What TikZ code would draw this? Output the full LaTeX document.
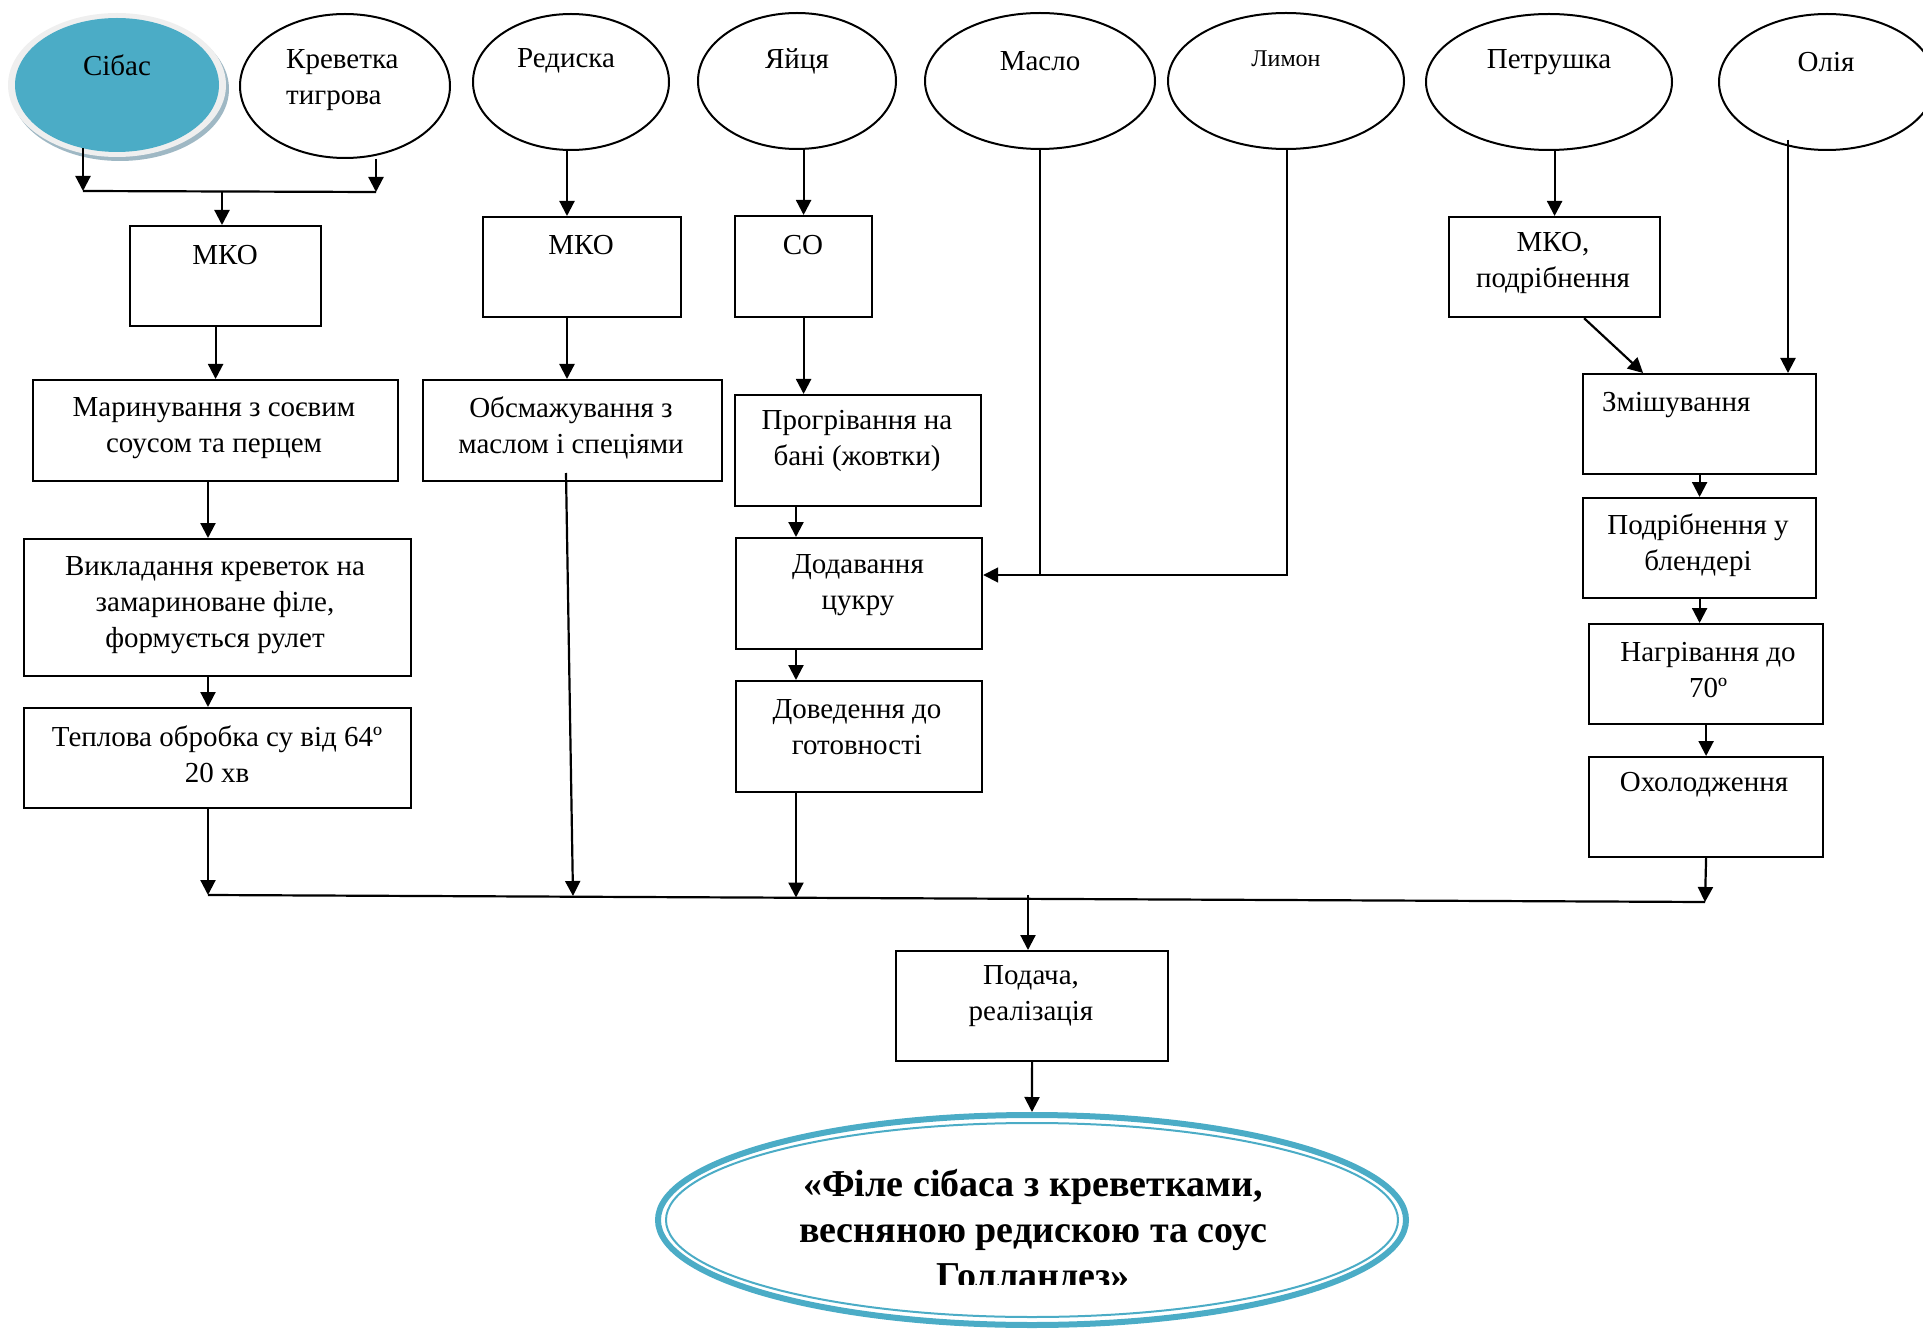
\documentclass[tikz,border=0pt]{standalone}
\usepackage{fontspec}
\setmainfont{Liberation Serif}
\usetikzlibrary{shapes.geometric,arrows.meta,calc}
\definecolor{acc}{HTML}{4BACC6}
\definecolor{ringgray}{HTML}{EFEFEF}
\definecolor{shadowgray}{HTML}{9FB8C4}
\newcommand\fs{\fontsize{29}{36}\selectfont}
\begin{document}
\begin{tikzpicture}[x=1pt,y=-1pt,
  ln/.style={line width=2.2pt},
  thinln/.style={line width=1.8pt},
  arr/.style={line width=2.2pt,-{Triangle[width=15pt,length=15pt]}},
  box/.style={draw,line width=2.2pt,inner sep=0pt,anchor=north west},
  ell/.style={draw,ellipse,line width=2pt,inner sep=0pt},
  txt/.style={inner sep=0pt,align=center,font=\fs}]
\useasboundingbox (0,0) rectangle (1923,1329);

% ---- ingredient ellipses
\node[ellipse,fill=shadowgray,inner sep=0pt,minimum width=218pt,minimum height=144pt] (sibsh) at (120,89) {};
\node[ellipse,fill=ringgray,inner sep=0pt,minimum width=218pt,minimum height=144pt] (sibring) at (117,85) {};
\node[ellipse,fill=acc,inner sep=0pt,minimum width=204pt,minimum height=134pt] (sib) at (117,85) {};
\node[ell,minimum width=210pt,minimum height=144pt] (krev) at (345,86) {};
\node[ell,minimum width=196pt,minimum height=136pt] (red) at (571,82) {};
\node[ell,minimum width=198pt,minimum height=136pt] (yay) at (797,81) {};
\node[ell,minimum width=230pt,minimum height=136pt] (mas) at (1040,81) {};
\node[ell,minimum width=236pt,minimum height=136pt] (lym) at (1286,81) {};
\node[ell,minimum width=246pt,minimum height=136pt] (pet) at (1549,82) {};
\node[ell,minimum width=216pt,minimum height=136pt] (oli) at (1827,82) {};

\node[txt] (tsib) at (117,65) {Сібас};
\node[txt,align=left,anchor=west] (tkrev) at (286,80) {Креветка\\тигрова};
\node[txt] (tred) at (566,61) {Редиска};
\node[txt] (tyay) at (797,61) {Яйця};
\node[txt] (tmas) at (1040,61) {Масло};
\node[txt,font=\fontsize{24}{29}\selectfont] (tlym) at (1286,59) {Лимон};
\node[txt] (tpet) at (1549,62) {Петрушка};
\node[txt] (toli) at (1826,62) {Олія};

% ---- process boxes
\node[box,minimum width=191pt,minimum height=100pt] (mko1) at (129,225) {};
\node[box,minimum width=198pt,minimum height=100pt] (mko2) at (482,216) {};
\node[box,minimum width=137pt,minimum height=101pt] (co) at (734,215) {};
\node[box,minimum width=365pt,minimum height=101pt] (mar) at (32,379) {};
\node[box,minimum width=299pt,minimum height=101pt] (obs) at (422,379) {};
\node[box,minimum width=387pt,minimum height=137pt] (vykl) at (23,538) {};
\node[box,minimum width=387pt,minimum height=100pt] (tepl) at (23,707) {};
\node[box,minimum width=246pt,minimum height=111pt] (progr) at (734,394) {};
\node[box,minimum width=246pt,minimum height=111pt] (dodav) at (735,537) {};
\node[box,minimum width=246pt,minimum height=111pt] (doved) at (735,680) {};
\node[box,minimum width=272pt,minimum height=110pt] (pod) at (895,950) {};
\node[box,minimum width=211pt,minimum height=100pt] (mkop) at (1448,216) {};
\node[box,minimum width=233pt,minimum height=100pt] (zmish) at (1582,373) {};
\node[box,minimum width=233pt,minimum height=100pt] (podr) at (1582,497) {};
\node[box,minimum width=234pt,minimum height=100pt] (nagr) at (1588,623) {};
\node[box,minimum width=234pt,minimum height=100pt] (okh) at (1588,756) {};

\node[txt] (tmko1) at (225,255) {МКО};
\node[txt] (tmko2) at (581,245) {МКО};
\node[txt] (tco) at (803,245) {СО};
\node[txt] (tmar) at (214,428) {Маринування з соєвим\\соусом та перцем};
\node[txt] (tobs) at (571,428) {Обсмажування з\\маслом і спеціями};
\node[txt] (tvykl) at (215,605) {Викладання креветок на\\замариноване філе,\\формується рулет};
\node[txt] (ttepl) at (217,754) {Теплова обробка су від 64º\\20 хв};
\node[txt] (tprogr) at (857,441) {Прогрівання на\\бані (жовтки)};
\node[txt] (tdodav) at (858,585) {Додавання\\цукру};
\node[txt] (tdoved) at (857,727) {Доведення до\\готовності};
\node[txt] (tpod) at (1031,996) {Подача,\\реалізація};
\node[txt] (tmkop) at (1553,263) {МКО,\\подрібнення};
\node[txt,anchor=west] (tzmish) at (1602,405) {Змішування};
\node[txt] (tpodr) at (1698,545) {Подрібнення у\\блендері};
\node[txt] (tnagr) at (1708,670) {Нагрівання до\\70º};
\node[txt] (tokh) at (1704,785) {Охолодження};

% ---- final dish
\node[ellipse,draw=acc,line width=6pt,inner sep=0pt,minimum width=748pt,minimum height=210pt] (fin) at (1032,1220) {};
\node[ellipse,draw=acc,line width=2pt,inner sep=0pt,minimum width=732pt,minimum height=194pt] (finin) at (1032,1220) {};
\begin{scope}
\clip (640,1100) rectangle (1420,1284);
\node[inner sep=0pt,align=center,font=\fontsize{38}{46}\selectfont\bfseries] (tfin) at (1033,1232) {«Філе сібаса з креветками,\\весняною редискою та соус\\Голландез»};
\end{scope}

% ---- junction coordinates
\coordinate (jA) at (83,191);
\coordinate (jB) at (376,192);
\coordinate (jM) at (222,192);
\coordinate (cT) at (208,895);
\coordinate (oc) at (567,300);
\coordinate (oS) at (566,473);
\coordinate (cO) at (573,896);
\coordinate (cD) at (796,897.5);
\coordinate (cP) at (1028,895);
\coordinate (cR) at (1705,902);
\coordinate (lJ) at (1287,575);
\coordinate (oT) at (1788,140);

% ---- connectors: left column
\draw[ln] (jA) -- (jB);
\draw[arr] ($(sib.south -| jA)+(0,-4)$) -- (jA);
\draw[arr] (krev.south -| jB) -- (jB);
\draw[arr] (jM) -- (jM |- mko1.north);
\draw[arr] (mko1.south -| mar.north) -- (mar.north);
\draw[arr] (mar.south -| cT) -- (vykl.north -| cT);
\draw[arr] (vykl.south -| cT) -- (tepl.north -| cT);
\draw[arr] (tepl.south -| cT) -- (cT);

% radish
\draw[arr] (red.south -| oc) -- (mko2.north -| oc);
\draw[arr] (mko2.south -| oc) -- (obs.north -| oc);
\draw[arr] (oS) -- (cO);

% eggs
\draw[arr] (yay.south -| co.north) -- (co.north);
\draw[arr] (co.south) -- (co.south |- progr.north);
\draw[arr] (progr.south -| cD) -- (dodav.north -| cD);
\draw[arr] (dodav.south -| cD) -- (doved.north -| cD);
\draw[arr] (doved.south -| cD) -- (cD);

% butter and lemon
\draw[thinln] (mas.south) -- (mas.south |- lJ);
\draw[thinln,-{Triangle[width=15pt,length=15pt]}] (lym.south -| lJ) -- (lJ) -- (lJ -| dodav.east);

% collector and serving
\draw[ln] (cT) -- (cR);
\draw[arr] (cP) -- (cP |- pod.north);
\draw[arr] (pod.south) -- (fin.north);

% right column
\draw[arr] (pet.south -| mkop.north) -- (mkop.north);
\draw[arr] ($(mkop.south)+(29.5,0)$) -- ($(zmish.north)+(-56.5,0)$);
\draw[arr] (oT) -- (oT |- zmish.north);
\draw[arr] (zmish.south) -- (podr.north);
\draw[arr] (podr.south) -- (podr.south |- nagr.north);
\draw[arr] (nagr.south) -- (okh.north);
\draw[arr] (okh.south) -- (cR);
\end{tikzpicture}
\end{document}
